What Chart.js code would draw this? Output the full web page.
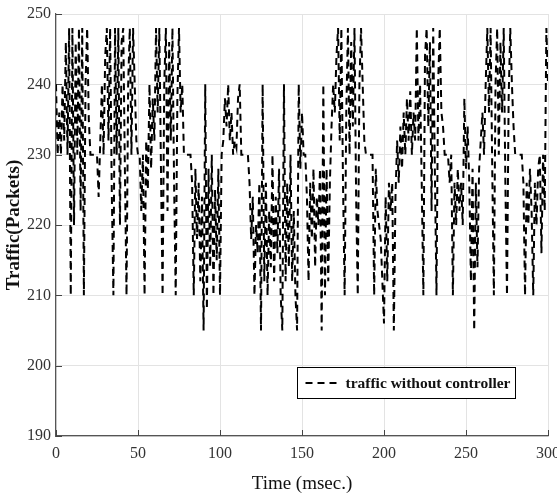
<!DOCTYPE html>
<html>
<head>
<meta charset="utf-8">
<script src="https://cdn.jsdelivr.net/npm/chart.js@4/dist/chart.umd.min.js"></script>
<style>
html,body{margin:0;padding:0;background:#fff;}
#wrap{width:557px;height:495px;}
</style>
</head>
<body>
<div id="wrap"><canvas id="c" width="557" height="495"></canvas></div>
<script>
// time (msec.), one sample per ms
const time = [];
for (let t = 0; t <= 300; t++) time.push(t);

const traffic = [
 240,230,236,230,240,232,246,230,248,210, // 0-9
 248,220,246,230,248,222,248,210,240,248, // 10-19
 235,230,230,230,230,230,224,232,240,230, // 20-29
 244,248,232,248,225,210,248,230,248,220, // 30-39
 246,248,228,210,240,248,230,248,240,232, // 40-49
 230,230,222,230,210,232,225,240,228,238, // 50-59
 232,248,236,248,228,210,240,248,222,246, // 60-69
 232,248,226,210,238,248,236,240,230,230, // 70-79
 230,230,230,226,210,228,218,226,212,224, // 80-89
 205,240,208,228,214,230,210,225,215,228, // 90-99
 210,230,232,238,234,240,232,236,230,232, // 100-109
 231,238,240,230,230,230,230,230,226,218, // 110-119
 224,210,220,216,226,205,240,212,226,210, // 120-129
 222,214,230,212,224,216,228,210,205,240, // 130-139
 212,226,214,230,212,222,210,205,240,228, // 140-149
 236,230,230,224,212,226,218,228,214,224, // 150-159
 220,228,205,240,210,228,212,226,234,240, // 160-169
 236,244,248,232,248,226,210,236,248,230, // 170-179
 246,234,248,224,210,240,248,240,232,230, // 180-189
 230,230,230,230,210,228,222,220,218,212, // 190-199
 206,224,212,226,222,226,205,224,232,226, // 200-209
 234,228,236,230,238,232,239,230,236,232, // 210-219
 248,232,240,226,210,244,248,234,246,222, // 220-229
 248,228,210,240,248,236,234,230,230,230, // 230-239
 226,230,210,226,220,228,222,226,220,238, // 240-249
 228,234,226,212,228,205,226,214,228,232, // 250-259
 236,230,240,248,236,248,228,210,240,248, // 260-269
 230,246,236,248,226,210,238,248,240,234, // 270-279
 230,230,230,230,230,226,210,226,220,228, // 280-289
 222,210,226,220,228,230,216,230,222,248, // 290-299
 240                                      // 300
];

const xTicks = [0, 50, 100, 150, 200, 250, 300];
const yTicks = [190, 200, 210, 220, 230, 240, 250];
const seriesLabel = 'traffic without controller';

const SERIF = '"Liberation Serif", "DejaVu Serif", serif';

const innerTicks = {
  id: 'innerTicks',
  beforeDatasetsDraw(chart) {
    const ctx = chart.ctx, a = chart.chartArea;
    const xs = chart.scales.x, ys = chart.scales.y;
    ctx.save();
    ctx.strokeStyle = '#444';
    ctx.lineWidth = 1;
    ctx.beginPath();
    xTicks.forEach(v => { const p = Math.round(xs.getPixelForValue(v)) + 0.5; ctx.moveTo(p, a.bottom); ctx.lineTo(p, a.bottom - 6); });
    yTicks.forEach(v => { const p = Math.round(ys.getPixelForValue(v)) + 0.5; ctx.moveTo(a.left, p); ctx.lineTo(a.left + 6, p); });
    ctx.stroke();
    ctx.restore();
  }
};

const boxLegend = {
  id: 'boxLegend',
  afterDraw(chart) {
    const ctx = chart.ctx, a = chart.chartArea;
    const ds = chart.data.datasets[0];
    ctx.save();
    ctx.font = 'bold 15.5px ' + SERIF;
    const tw = ctx.measureText(ds.label).width;
    const w = 8 + 36 + 4 + tw + 5;
    const h = 31;
    const right = a.right - 33, bottom = a.bottom - 38;
    const x0 = Math.round(right - w) + 0.5, y0 = Math.round(bottom - h) + 0.5;
    ctx.fillStyle = '#fff';
    ctx.fillRect(x0, y0, w, h);
    ctx.strokeStyle = '#000';
    ctx.lineWidth = 1;
    ctx.strokeRect(x0, y0, w, h);
    const cy = y0 + h / 2;
    ctx.strokeStyle = ds.borderColor;
    ctx.lineWidth = ds.borderWidth;
    ctx.setLineDash(ds.borderDash);
    ctx.beginPath();
    ctx.moveTo(x0 + 8, cy);
    ctx.lineTo(x0 + 44, cy);
    ctx.stroke();
    ctx.setLineDash([]);
    ctx.fillStyle = '#111';
    ctx.textBaseline = 'middle';
    ctx.fillText(ds.label, x0 + 48, cy + 1);
    ctx.restore();
  }
};

new Chart(document.getElementById('c'), {
  type: 'line',
  data: {
    datasets: [{
      label: seriesLabel,
      data: time.map((t, i) => ({ x: t, y: traffic[i] })),
      borderColor: '#000',
      borderWidth: 2,
      borderDash: [7, 5],
      pointRadius: 0,
      tension: 0,
      fill: false
    }]
  },
  options: {
    responsive: false,
    animation: false,
    devicePixelRatio: 1,
    layout: { padding: { top: 14, right: 9, left: 0, bottom: 0 } },
    plugins: { legend: { display: false }, tooltip: { enabled: false } },
    scales: {
      x: {
        type: 'linear', min: 0, max: 300,
        afterBuildTicks: s => { s.ticks = xTicks.map(v => ({ value: v })); },
        afterFit: s => { s.height = 59; s.paddingLeft = 0; s.paddingRight = 0; },
        grid: { color: '#e3e3e3', drawTicks: false },
        border: { color: '#555', width: 1.2 },
        ticks: { color: '#333', font: { family: SERIF, size: 16 }, padding: 8, maxRotation: 0 },
        title: { display: true, text: 'Time (msec.)', color: '#111', font: { family: SERIF, size: 19 }, padding: { top: 1, bottom: 0 } }
      },
      y: {
        min: 190, max: 250,
        afterBuildTicks: s => { s.ticks = yTicks.map(v => ({ value: v })); },
        afterFit: s => { s.width = 56; s.paddingTop = 0; s.paddingBottom = 0; },
        grid: { color: '#e3e3e3', drawTicks: false },
        border: { color: '#555', width: 1.2 },
        ticks: { color: '#333', font: { family: SERIF, size: 16 }, padding: 5 },
        title: { display: true, text: 'Traffic(Packets)', color: '#111', font: { family: SERIF, size: 19, weight: 'bold' }, padding: { top: 3, bottom: 0 } }
      }
    }
  },
  plugins: [innerTicks, boxLegend]
});
</script>
</body>
</html>
